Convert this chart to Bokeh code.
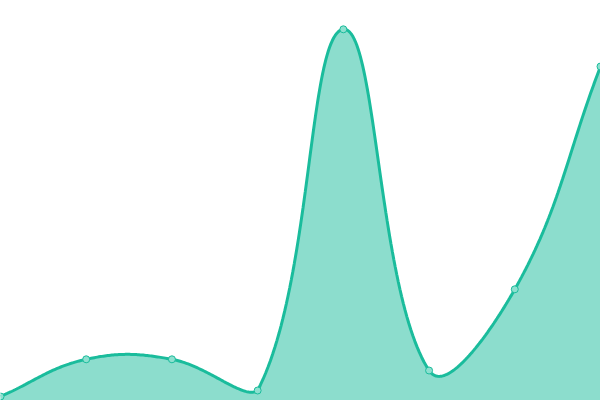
import numpy as np
from bokeh.plotting import figure
from bokeh.models import Range1d, ColumnDataSource
from bokeh.embed import file_html
from bokeh.resources import INLINE

# ---- data ----
categories = ["A", "B", "C", "D", "E", "F", "G", "H"]
values = [1.0, 10.3, 10.3, 2.5, 92.8, 7.5, 27.8, 83.5]

Y_MAX = 100.0
W, H = 600, 400
TENSION = 0.4

xs = list(range(len(categories)))
n = len(xs)

# map to pixel space (chart-area coordinates) for a Chart.js-like spline
def to_px(x, y):
    return x * W / (n - 1), (Y_MAX - y) * H / Y_MAX

def to_data(px, py):
    return px * (n - 1) / W, Y_MAX - py * Y_MAX / H

pts = [to_px(x, y) for x, y in zip(xs, values)]

cps = []
for i in range(n):
    cur = np.array(pts[i])
    prev = np.array(pts[i - 1]) if i > 0 else cur
    nxt = np.array(pts[i + 1]) if i < n - 1 else cur
    d01 = np.hypot(*(cur - prev))
    d12 = np.hypot(*(nxt - cur))
    tot = d01 + d12
    s01 = d01 / tot if tot else 0.0
    s12 = d12 / tot if tot else 0.0
    fa, fb = TENSION * s01, TENSION * s12
    c_prev = cur - fa * (nxt - prev)
    c_next = cur + fb * (nxt - prev)
    c_prev = np.clip(c_prev, [0, 0], [W, H])
    c_next = np.clip(c_next, [0, 0], [W, H])
    cps.append((c_prev, c_next))

cx, cy = [], []
ts = np.linspace(0, 1, 60)
for i in range(n - 1):
    p0 = np.array(pts[i]); p3 = np.array(pts[i + 1])
    p1 = cps[i][1]; p2 = cps[i + 1][0]
    for t in (ts if i == 0 else ts[1:]):
        b = ((1 - t) ** 3) * p0 + 3 * ((1 - t) ** 2) * t * p1 + 3 * (1 - t) * t * t * p2 + t ** 3 * p3
        dx, dy = to_data(b[0], b[1])
        cx.append(dx); cy.append(dy)

p = figure(width=W, height=H, output_backend="svg", toolbar_location=None,
           x_range=Range1d(0, n - 1), y_range=Range1d(0, Y_MAX),
           min_border=0, min_border_left=0, min_border_right=0,
           min_border_top=0, min_border_bottom=0)
p.axis.visible = False
p.grid.visible = False
p.outline_line_color = None
p.background_fill_color = "white"
p.border_fill_color = "white"

area_x = [cx[0]] + cx + [cx[-1]]
area_y = [0] + cy + [0]
p.patch(area_x, area_y, fill_color="#1abc9c", fill_alpha=0.5, line_color=None)
p.line(cx, cy, line_color="#1abc9c", line_width=3)

src = ColumnDataSource(dict(x=xs, y=values))
p.scatter("x", "y", source=src, size=7, fill_color="#8de0cf",
          line_color="#1abc9c", line_width=1)

html = file_html(p, INLINE)
html = html.replace("<head>", "<head><style>html,body{margin:0;padding:0;overflow:hidden;}</style>", 1)
open("out.html", "w").write(html)
